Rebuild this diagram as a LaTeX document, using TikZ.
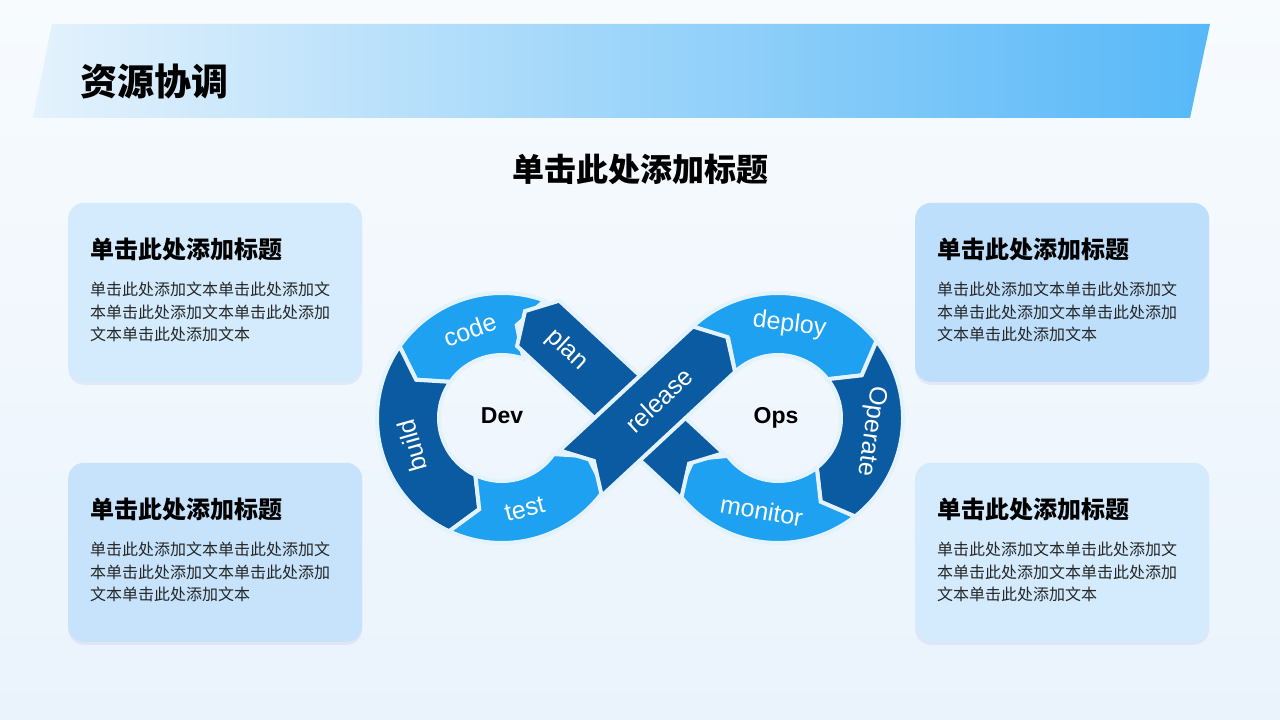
\documentclass[tikz,border=0pt]{standalone}
\usepackage{fontspec}
\setmainfont{Liberation Sans}
\newfontfamily\cjk{Noto Sans CJK SC}
\usetikzlibrary{shadows}

\definecolor{bgtop}{HTML}{F7FBFE}
\definecolor{bgbot}{HTML}{EAF3FC}
\definecolor{bandL}{HTML}{E4F2FC}
\definecolor{bandR}{HTML}{57B8F8}
\definecolor{lightseg}{HTML}{1DA1F0}
\definecolor{darkseg}{HTML}{0B5BA3}
\definecolor{gapcol}{HTML}{E4F2FC}
\definecolor{boxA}{HTML}{D3EBFC}
\definecolor{boxB}{HTML}{C6E3FB}
\definecolor{boxC}{HTML}{BEDFFB}

% ring piece: centre, tail angle, head angle, tip offset, colour
\newcommand\ringpiece[5]{%
  \begin{scope}[shift={(#1)}]
    \filldraw[seg,fill=#5] (#2:125) -- ({#2+(#4)}:94) -- (#2:63)
      arc[start angle=#2,end angle=#3,radius=63] -- ({#3+(#4)}:94) -- (#3:125)
      arc[start angle=#3,end angle=#2,radius=125] -- cycle;
  \end{scope}}
% straight piece through the crossing: angle, tail, head, colour
\newcommand\barpiece[4]{%
  \begin{scope}[shift={(cross)},rotate=#1]
    \filldraw[seg,fill=#4] (#2,31) -- (#2+18,0) -- (#2,-31) -- (#3,-31)
      -- (#3+18,0) -- (#3,31) -- cycle;
  \end{scope}}

\begin{document}
\begin{tikzpicture}
  [x=1pt,y=1pt,
   seg/.style={draw=gapcol,line width=4pt},
   lbl/.style={text=white,inner sep=1pt,font=\fontsize{25}{25}\selectfont},
   card/.style={rounded corners=16pt,minimum width=294pt,minimum height=179pt,
     drop shadow={shadow xshift=0pt,shadow yshift=-3pt,opacity=.08,fill=blue!50!gray}},
   head/.style={anchor=base west,inner sep=0pt,font=\cjk\bfseries\fontsize{24}{24}\selectfont},
   body/.style={anchor=base west,inner sep=0pt,text=black!85,font=\cjk\fontsize{16}{16}\selectfont}]
  \useasboundingbox (0,0) rectangle (1280,720);
  \shade[top color=bgtop,bottom color=bgbot] (0,0) rectangle (1280,720);

  % title band
  \shade[left color=bandL,right color=bandR] (52,696) -- (1210,696) -- (1190,602) -- (33,602) -- cycle;
  \node[anchor=base west,inner sep=0pt,font=\cjk\bfseries\fontsize{37}{37}\selectfont] (title) at (80,624) {资源协调};
  \node[anchor=base,inner sep=0pt,font=\cjk\bfseries\fontsize{32}{32}\selectfont] (sub) at (640,538) {单击此处添加标题};

  % cards
  \foreach \nm/\x/\y/\col in {tl/68/338/boxA, bl/68/78/boxB, tr/915/338/boxC, br/915/78/boxA}
  {
    \node[card,fill=\col,anchor=south west] (\nm) at (\x,\y) {};
    \node[head] (\nm-t) at (\x+22,\y+123) {单击此处添加标题};
    \foreach \ln [count=\k] in {单击此处添加文本单击此处添加文,本单击此处添加文本单击此处添加,文本单击此处添加文本}
      \node[body] (\nm-\k) at (\x+22,\y+108.5-22.5*\k) {\ln};
  }

  % infinity loop
  \coordinate (dev) at (502,302);
  \coordinate (ops) at (778,302);
  \coordinate (cross) at (640,302);
  \foreach \ctr/\a/\b/\d/\col in {dev/70/145/11/lightseg, dev/145/245/11/darkseg,
      dev/245/325/11/lightseg, ops/133/38/-11/lightseg, ops/38/-52/-11/darkseg,
      ops/-52/-143/-11/lightseg}
    \ringpiece{\ctr}{\a}{\b}{\d}{\col};
  \barpiece{137.1}{-85}{139}{darkseg}
  \barpiece{42.9}{-81}{101}{darkseg}

  \node[lbl,rotate=20] (code) at ([shift={(110:94)}]dev) {code};
  \node[lbl,rotate=106] (build) at ([shift={(197:94)}]dev) {build};
  \node[lbl,rotate=14] (test) at ([shift={(-76:94)}]dev) {test};
  \node[lbl,rotate=-42.9] (plan) at ([shift={(137.1:100)}]cross) {plan};
  \node[lbl,rotate=42.9] (release) at ([shift={(42.9:26)}]cross) {release};
  \node[lbl,rotate=-7] (deploy) at ([shift={(83:94)}]ops) {deploy};
  \node[lbl,rotate=-98] (operate) at ([shift={(-8:94)}]ops) {Operate};
  \node[lbl,rotate=-10] (monitor) at ([shift={(-100:94)}]ops) {monitor};

  \node[font=\bfseries\fontsize{23}{23}\selectfont] (devtxt) at (502,304) {Dev};
  \node[anchor=base,font=\bfseries\fontsize{23}{23}\selectfont] (opstxt) at (776,296) {Ops};
\end{tikzpicture}
\end{document}
